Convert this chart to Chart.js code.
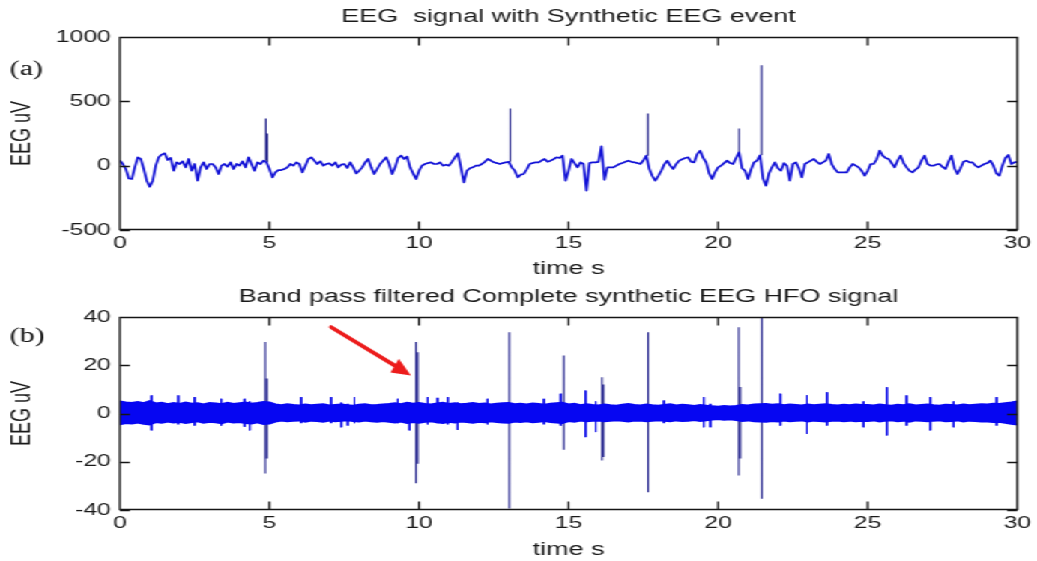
<!DOCTYPE html>
<html><head><meta charset="utf-8">
<script src="https://cdn.jsdelivr.net/npm/chart.js@4/dist/chart.umd.min.js"></script>
<style>
html,body{margin:0;padding:0;background:#fff;overflow:hidden;width:1037px;height:561px;}
#stage{position:absolute;left:0;top:0;width:692px;height:561px;transform-origin:0 0;transform:scale(1.49855,1);}
#stage canvas{position:absolute;left:0;}
</style></head><body>
<div id="stage">
<canvas id="cA" width="692" height="280" style="top:0;width:692px;height:280px"></canvas>
<canvas id="cB" width="692" height="281" style="top:280px;width:692px;height:281px"></canvas>
</div>
<script>
// ---------- tick labels ----------
const xTicks = [0, 5, 10, 15, 20, 25, 30];
const yTicksA = [-500, 0, 500, 1000];
const yTicksB = [-40, -20, 0, 20, 40];

// ---------- panel (a): raw EEG, one value every 0.1 s from 0 to 30 s ----------
const DT_A = 0.1;
const eegA = [
  40, 13, -26, -100, -104, -13, 65, 52, -26, -117,
  -164, -117, 0, 65, 86, 96, 44, 60, -39, 26,
  13, 34, -13, 52, -39, 13, -117, -13, 26, -26,
  13, 13, -13, -65, 0, 13, -8, 26, -26, 13,
  0, 34, -13, 65, 13, -39, 26, 13, 39, 26,
  -26, -91, -52, -34, -34, -26, -13, 13, 0, 26,
  13, -52, 0, 52, 65, 39, 13, 34, 0, 13,
  18, 0, 26, -13, 8, 13, -18, 26, -13, -60,
  -39, -13, 26, 52, -13, -65, -26, 13, 39, 65,
  13, -65, -13, 60, 78, 52, 70, -13, -60, -104,
  -40, 0, 13, 20, 26, 13, 13, 26, 0, 8,
  0, 30, 65, 96, -13, -130, -39, -20, -13, 0,
  0, 13, 30, 52, 40, 26, 20, 13, 20, 26,
  30, -13, -39, -91, -70, -65, -30, 13, 20, 26,
  26, 40, 52, 30, 39, 50, 65, 60, 78, -117,
  -40, 52, 20, -13, 26, 13, -195, 20, 26, 26,
  30, 150, -110, -13, -13, -13, 0, 13, 20, 30,
  39, 30, 26, 20, 13, 40, 78, -26, -80, -117,
  -80, -39, 10, 39, 0, -26, 13, 39, 50, 60,
  65, 30, 26, 90, 117, 60, 26, -60, -104, -50,
  -13, 0, 20, 39, 20, 13, 60, 104, -20, -39,
  -104, -30, 26, 40, 80, -100, -156, -60, -13, 26,
  -20, -39, 20, 0, -117, 13, 26, -20, -91, 13,
  26, 39, 52, 30, 13, 26, 39, 91, 10, -26,
  -52, -52, -52, -52, -13, 13, 0, -13, -40, -78,
  -40, 13, 13, 50, 117, 78, 60, 52, 20, -13,
  40, 78, 20, -13, -40, -52, -30, -13, 40, 78,
  13, 0, 0, 10, 13, -10, -26, 30, 78, -20,
  -65, -20, 30, 39, 26, 26, 0, -13, 0, 13,
  20, 39, 0, -60, -78, 0, 60, 83, 13, 26,
  30
];
// synthetic events in (a)
const spikeTimesA = [4.88, 4.93, 13.05, 17.65, 20.70, 21.45];
const spikeTopsA  = [367, 250, 445, 406, 289, 781];
const spikeBasesA = [39, 26, 30, 78, 104, 80];

// ---------- panel (b): band-pass filtered, envelope every 0.2 s ----------
const DT_B = 0.2;
const upperB = [
  5.0,4.6,4.4,4.8,4.3,5.2,
  4.2,4.5,3.9,4.4,4.0,4.6,4.1,4.3,3.8,4.4,4.2,3.9,4.5,4.0,4.3,4.6,4.1,4.4,4.8,
  4.6,3.8,3.5,3.9,3.6,3.4,3.8,3.5,3.7,3.9,3.4,3.6,3.8,3.5,3.3,3.7,3.9,3.5,3.6,3.8,
  4.0,4.3,3.9,4.5,4.1,4.4,4.0,3.8,4.2,4.5,4.0,4.3,3.9,4.1,4.4,4.0,4.2,3.8,4.1,4.3,
  4.4,3.9,4.1,3.8,4.2,4.0,3.7,4.1,4.3,4.5,
  3.8,4.1,3.5,3.9,3.6,3.4,3.8,3.5,3.3,3.7,4.0,3.6,3.4,3.8,3.5,3.3,3.6,3.9,3.4,3.7,
  3.5,3.2,3.6,3.3,3.0,2.8,3.1,2.9,3.2,3.6,3.4,3.8,3.9,
  4.0,3.7,3.9,3.5,3.8,3.6,3.4,3.8,3.5,3.7,3.9,3.6,3.4,3.7,3.5,3.8,3.6,
  3.6,3.4,3.8,3.5,3.3,3.7,3.5,3.9,3.4,3.6,3.8,3.5,3.3,3.7,3.6,3.4,3.8,3.5,3.7,3.9,
  3.8,4.1,4.0,4.3,4.6,5.0
];
const lowerB = [
  -4.5,-4.0,-4.2,-3.8,-4.3,-4.6,
  -3.6,-3.9,-3.4,-3.8,-3.5,-4.0,-3.6,-3.3,-3.9,-3.5,-3.7,-4.1,-3.4,-3.8,-3.6,-4.0,-4.2,-3.7,-4.4,
  -4.2,-3.4,-3.0,-3.3,-3.1,-2.9,-3.4,-3.0,-3.2,-3.5,-3.0,-3.3,-3.1,-2.8,-3.2,-3.4,-3.0,-3.3,-3.5,-3.2,
  -3.5,-3.8,-3.4,-4.0,-3.6,-3.9,-3.5,-3.3,-3.7,-4.0,-3.5,-3.8,-3.4,-3.6,-3.9,-3.5,-3.7,-3.3,-3.6,-3.8,
  -3.9,-3.4,-3.6,-3.3,-3.7,-3.5,-3.2,-3.6,-3.8,-4.0,
  -3.2,-3.5,-3.0,-3.3,-3.1,-2.9,-3.2,-3.0,-2.8,-3.1,-3.4,-3.0,-2.9,-3.2,-3.0,-2.8,-3.1,-3.3,-2.9,-3.1,
  -3.0,-2.7,-3.1,-2.8,-2.5,-2.3,-2.6,-2.4,-2.7,-3.1,-2.9,-3.3,-3.4,
  -3.5,-3.2,-3.4,-3.0,-3.3,-3.1,-2.9,-3.3,-3.0,-3.2,-3.4,-3.1,-2.9,-3.2,-3.0,-3.3,-3.1,
  -3.1,-2.9,-3.3,-3.0,-2.8,-3.2,-3.0,-3.4,-2.9,-3.1,-3.3,-3.0,-2.8,-3.2,-3.1,-2.9,-3.3,-3.0,-3.2,-3.4,
  -3.4,-3.6,-3.5,-3.9,-4.3,-4.6
];
// small bursts in (b)
const minorTimesB   = [1.06,1.95,2.5,3.39,4.17,4.34,6.06,7.06,7.4,7.62,7.84,9.29,9.68,10.29,10.62,10.96,11.29,12.29,14.18,14.74,15.57,15.91,18.19,19.52,19.74,22.08,22.97,23.64,24.86,25.64,26.3,27.09,27.87,29.31];
const minorTopsB    = [7.5,7.5,6.8,6.1,6.1,5.0,6.8,6.8,4.5,4.0,6.8,6.1,4.5,6.8,6.5,6.8,4.5,6.1,6.1,8.2,9.5,5.0,5.4,6.8,4.0,8.2,7.5,8.8,5.0,10.9,7.5,6.8,5.0,6.8];
const minorBottomsB = [-7.0,-4.5,-5.0,-5.0,-5.5,-7.0,-4.0,-4.0,-5.7,-5.0,-4.0,-4.0,-7.0,-4.5,-4.0,-4.5,-6.8,-4.5,-4.5,-5.0,-9.8,-7.7,-4.0,-5.7,-5.7,-5.0,-8.4,-5.0,-5.7,-9.1,-5.0,-7.0,-5.7,-5.0];
// HFO events in (b)
const spikeTimesB   = [4.86, 4.92, 9.90, 9.96, 13.02, 14.84, 16.12, 16.17, 17.66, 20.69, 20.74, 21.46];
const spikeTopsB    = [29.6, 14.5, 29.6, 25.4, 33.7, 24.0, 15.0, 12.0, 33.7, 35.8, 11.0, 42.0];
const spikeBottomsB = [-24.9, -18.7, -28.9, -20.8, -39.4, -15.0, -19.5, -18.0, -32.6, -25.7, -18.7, -35.3];

// annotation arrow (data coordinates of panel b)
const arrowFromB = [7.06, 35.8];
const arrowToB   = [9.73, 15.8];

// ---------- rendering ----------
const STRETCH = 1037 / 692;
const SANS = "'Liberation Sans', Arial, Helvetica, sans-serif";
const TXT = '#1a1a1a';

function series(values, dt) { return values.map((v, i) => ({x: +(i * dt).toFixed(3), y: v})); }
function segments(times, a, b) {
  const out = [];
  times.forEach((t, i) => { out.push({x: t, y: a[i]}, {x: t, y: b[i]}, {x: t, y: null}); });
  return out;
}

const framePlugin = {
  id: 'matlabFrame',
  afterDatasetsDraw(chart, args, opts) {
    const {ctx, chartArea: a, scales: {x, y}} = chart;
    ctx.save();
    ctx.strokeStyle = '#151515';
    ctx.lineWidth = 1.3;
    const L = a.left, R = a.right, T = Math.round(a.top) + 0.5, B = Math.round(a.bottom) - 0.5;
    ctx.beginPath();
    ctx.moveTo(L, T); ctx.lineTo(R, T); ctx.lineTo(R, B); ctx.lineTo(L, B); ctx.closePath();
    xTicks.forEach(v => {
      const p = x.getPixelForValue(v);
      ctx.moveTo(p, B); ctx.lineTo(p, B - 8);
      ctx.moveTo(p, T); ctx.lineTo(p, T + 8);
    });
    opts.yTicks.forEach(v => {
      const p = Math.round(y.getPixelForValue(v)) + 0.5;
      ctx.moveTo(L, p); ctx.lineTo(L + 6.7, p);
      ctx.moveTo(R, p); ctx.lineTo(R - 6.7, p);
    });
    ctx.stroke();
    // panel label
    ctx.fillStyle = '#111';
    ctx.font = "20px 'Liberation Serif', 'Times New Roman', serif";
    ctx.textBaseline = 'middle';
    ctx.textAlign = 'left';
    ctx.fillText(opts.label, 6.5, opts.labelY);
    // arrow drawn in un-stretched (visual) space
    if (opts.arrow) {
      const [f, t] = opts.arrow;
      const x1 = x.getPixelForValue(f[0]) * STRETCH, y1 = y.getPixelForValue(f[1]);
      const x2 = x.getPixelForValue(t[0]) * STRETCH, y2 = y.getPixelForValue(t[1]);
      ctx.scale(1 / STRETCH, 1);
      const ang = Math.atan2(y2 - y1, x2 - x1);
      const hl = 19, hw = 8;
      const bx = x2 - hl * Math.cos(ang), by = y2 - hl * Math.sin(ang);
      ctx.strokeStyle = '#ec1c1c';
      ctx.fillStyle = '#ec1c1c';
      ctx.lineWidth = 4;
      ctx.lineCap = 'round';
      ctx.beginPath(); ctx.moveTo(x1, y1); ctx.lineTo(bx, by); ctx.stroke();
      ctx.beginPath();
      ctx.moveTo(x2, y2);
      ctx.lineTo(bx + hw * Math.sin(ang), by - hw * Math.cos(ang));
      ctx.lineTo(bx - hw * Math.sin(ang), by + hw * Math.cos(ang));
      ctx.closePath(); ctx.fill();
    }
    ctx.restore();
  }
};

function makeOptions(title, yMin, yMax, yTicks, xAxisH, label, labelY, arrow) {
  return {
    responsive: false, animation: false, events: [],
    layout: {padding: {left: 0, right: 12, top: 0, bottom: 0}},
    plugins: {
      legend: {display: false}, tooltip: {enabled: false},
      title: {display: true, text: title, fullSize: false, color: TXT,
              font: {family: SANS, size: 18, weight: 'normal'}, padding: {top: 6, bottom: 9.4}},
      matlabFrame: {yTicks, label, labelY, arrow}
    },
    scales: {
      x: {
        type: 'linear', min: 0, max: 30,
        afterBuildTicks: s => { s.ticks = xTicks.map(v => ({value: v})); },
        afterFit: s => { s.height = xAxisH; },
        grid: {display: false, drawTicks: false}, border: {display: false},
        ticks: {color: TXT, font: {family: SANS, size: 16.5}, padding: 4, maxRotation: 0, autoSkip: false,
                callback: v => String(v)},
        title: {display: true, text: 'time s', color: TXT, font: {family: SANS, size: 18}, padding: {top: 0, bottom: 0}}
      },
      y: {
        type: 'linear', min: yMin, max: yMax,
        afterBuildTicks: s => { s.ticks = yTicks.map(v => ({value: v})); },
        afterFit: s => { s.width = 80; },
        grid: {display: false, drawTicks: false}, border: {display: false},
        ticks: {color: TXT, font: {family: SANS, size: 16.5}, padding: 6, autoSkip: false,
                callback: v => String(v)},
        title: {display: true, text: 'EEG uV', color: TXT, font: {family: SANS, size: 18}, padding: {top: 4.6, bottom: 0}}
      }
    }
  };
}

new Chart(document.getElementById('cA'), {
  type: 'line',
  data: {datasets: [
    {data: series(eegA, DT_A), borderColor: '#1212d6', borderWidth: 1.7, pointRadius: 0,
     borderJoinStyle: 'round', tension: 0},
    {data: segments(spikeTimesA, spikeBasesA, spikeTopsA), borderColor: '#22228a', borderWidth: 1.1,
     pointRadius: 0, spanGaps: false}
  ]},
  options: makeOptions('EEG  signal with Synthetic EEG event', -500, 1000, yTicksA, 50, '(a)', 70, null),
  plugins: [framePlugin]
});

new Chart(document.getElementById('cB'), {
  type: 'line',
  data: {datasets: [
    {data: series(upperB, DT_B), borderColor: '#0606f2', backgroundColor: '#0606f2', borderWidth: 1.8,
     pointRadius: 0, fill: '+1', tension: 0},
    {data: series(lowerB, DT_B), borderColor: '#0606f2', borderWidth: 1.8, pointRadius: 0, fill: false, tension: 0},
    {data: segments(minorTimesB, minorTopsB, minorBottomsB), borderColor: '#0a0ae8', borderWidth: 1,
     pointRadius: 0, spanGaps: false},
    {data: segments(spikeTimesB, spikeTopsB, spikeBottomsB), borderColor: '#26268e', borderWidth: 1.1,
     pointRadius: 0, spanGaps: false}
  ]},
  options: makeOptions('Band pass filtered Complete synthetic EEG HFO signal', -40, 40, yTicksB, 51, '(b)', 57,
                       [arrowFromB, arrowToB]),
  plugins: [framePlugin]
});
</script>
</body></html>
